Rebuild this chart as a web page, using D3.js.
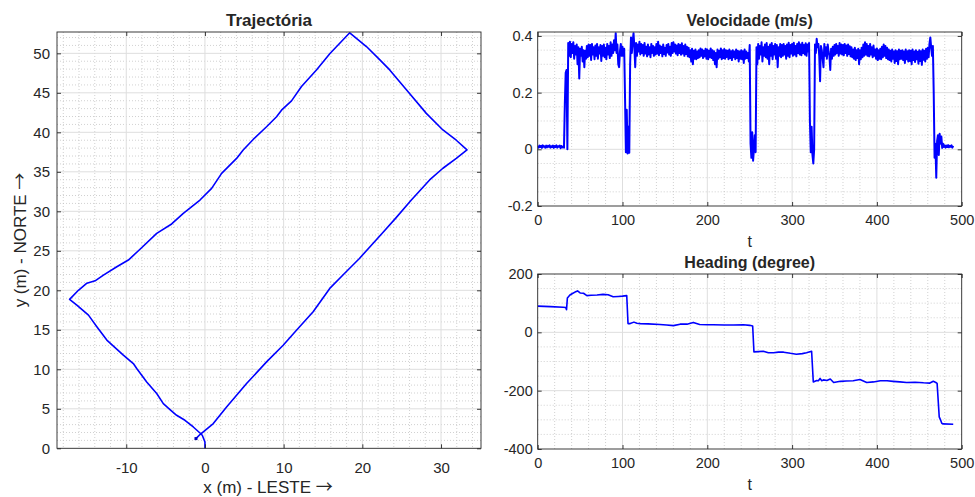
<!DOCTYPE html>
<html><head><meta charset="utf-8">
<script src="https://cdn.jsdelivr.net/npm/d3@7"></script>
<style>
body{margin:0;background:#fff}
svg{display:block}
text{font-family:"Liberation Sans",Arial,Helvetica,sans-serif;fill:#262626}
</style>
</head><body>
<svg width="975" height="497"></svg>
<script>
// ---------------- DATA ----------------
// Trajectory (m)
const trajX = [0, 0, -0.34, -0.63, -1.48, -2.54, -3.6, -4.44, -5.29, -6.13, -7.4, -8.67, -9.1, -10.37, -12.47, -13.74, -14.8, -16.28, -17.2, -16.08, -15.0, -13.96, -12.9, -11.2, -9.73, -8.25, -6.13, -4.23, -2.75, -0.63, 0.85, 2.12, 4.02, 4.86, 6.13, 7.83, 9.1, 9.73, 11.0, 12.27, 14.17, 15.86, 18.4, 20.52, 22.2, 23.48, 25.6, 28.13, 30.24, 31.94, 33.3, 31.94, 30.24, 28.55, 26.2, 24.3, 22.5, 19.6, 17.6, 15.86, 13.75, 11.63, 9.94, 7.83, 5.29, 2.75, 1.06, -0.63, -1.14];
const trajY = [0, 0.8, 1.65, 1.94, 2.7, 3.55, 4.18, 4.9, 5.66, 6.93, 8.4, 10.1, 10.73, 11.8, 13.7, 15.4, 16.86, 18.13, 18.85, 20.0, 20.9, 21.2, 21.93, 22.98, 23.83, 25.2, 27.2, 28.4, 29.75, 31.43, 32.9, 34.8, 36.7, 37.77, 39.1, 40.7, 41.97, 42.8, 43.98, 45.8, 47.9, 49.94, 52.6, 50.86, 49.2, 47.9, 45.4, 42.4, 40.3, 39.0, 37.77, 36.7, 35.45, 33.97, 31.4, 29.2, 27.2, 24.0, 22.0, 20.24, 17.28, 14.95, 13.05, 10.94, 8.2, 5.24, 3.13, 1.74, 1.23];

// Velocity (m/s), one sample per second, t = 0 .. 490
const velStep = 1;
const velocity = [
.012,.006,.013,.008,.012,.005,.014,.009,.011,.006,
.013,.007,.012,.009,.014,.006,.011,.008,.013,.005,
.012,.008,.014,.006,.011,.009,.013,.004,.012,.007,
.010,.006,.160,.270,.280,.000,.375,.330,.380,.325,
.372,.340,.378,.320,.365,.335,.370,.300,.360,.250,
.355,.330,.362,.310,.350,.290,.348,.320,.365,.325,
.370,.330,.368,.315,.372,.335,.360,.318,.366,.330,
.372,.320,.360,.338,.368,.312,.365,.330,.370,.325,
.358,.318,.372,.335,.365,.322,.378,.330,.370,.340,
.385,.350,.410,.340,.370,.300,.290,.345,.372,.330,
.362,.330,.355,.180,-.010,.140,-.015,.080,-.012,.300,
.395,.340,.380,.410,.360,.290,.375,.330,.370,.345,
.380,.335,.372,.340,.368,.330,.375,.338,.362,.328,
.370,.335,.360,.325,.372,.340,.365,.330,.360,.335,
.372,.338,.380,.332,.366,.340,.362,.328,.370,.336,
.358,.330,.368,.342,.372,.335,.362,.330,.375,.340,
.378,.345,.370,.338,.366,.332,.372,.340,.368,.334,
.374,.338,.365,.330,.370,.336,.362,.328,.358,.325,
.350,.310,.355,.300,.348,.320,.352,.318,.345,.322,
.350,.325,.356,.330,.352,.322,.348,.328,.355,.320,
.352,.318,.348,.325,.356,.322,.350,.315,.346,.300,
.340,.290,.352,.320,.348,.325,.356,.318,.350,.322,
.354,.320,.350,.326,.348,.318,.352,.322,.346,.315,
.350,.325,.345,.318,.352,.322,.348,.310,.345,.320,
.350,.318,.346,.305,.352,.320,.345,.322,.340,.310,
.368,.020,-.030,.060,-.040,.000,.050,-.010,.360,.300,
.372,.320,.365,.335,.378,.310,.360,.330,.370,.325,
.375,.320,.362,.300,.370,.330,.375,.318,.365,.335,
.372,.320,.368,.290,.360,.330,.372,.325,.368,.330,
.372,.335,.365,.320,.370,.330,.376,.325,.368,.338,
.372,.330,.376,.335,.365,.328,.372,.340,.378,.335,
.370,.332,.376,.340,.368,.335,.374,.330,.370,.345,
.375,.100,-.010,.080,-.020,-.050,.000,.370,.340,.390,
.360,.372,.330,.240,.365,.350,.320,.290,.372,.330,
.360,.320,.370,.345,.330,.280,.355,.320,.362,.330,
.368,.335,.372,.340,.365,.330,.375,.338,.370,.335,
.368,.332,.372,.340,.366,.330,.370,.336,.364,.328,
.360,.325,.352,.320,.358,.315,.350,.322,.355,.300,
.350,.318,.358,.325,.370,.330,.378,.335,.372,.330,
.365,.328,.372,.335,.360,.325,.366,.330,.352,.320,
.356,.315,.350,.320,.355,.318,.362,.325,.370,.330,
.365,.322,.358,.318,.352,.315,.348,.310,.352,.320,
.345,.305,.350,.312,.346,.300,.352,.318,.348,.320,
.350,.315,.345,.305,.352,.318,.346,.310,.350,.312,
.348,.300,.352,.315,.345,.308,.350,.318,.344,.302,
.350,.312,.346,.298,.352,.316,.348,.310,.355,.320,
.358,.325,.372,.395,.360,.330,.365,.200,-.030,.020,
-.100,.030,.050,-.020,.055,.020,.045,.005,.020,.008,
.014,.006,.013,.008,.015,.007,.012,.009,.014,.006,.012
];

// Heading (degree)
const headingT = [0, 15, 30, 33, 34, 35, 38, 41, 44, 47, 50, 54, 58, 63, 70, 77, 83, 89, 95, 100, 105, 106.5, 109, 113.5, 117, 121, 130, 144, 152, 160, 168, 176, 183.5, 191, 200, 207, 220, 231, 242.5, 250, 253.5, 255, 260, 266, 272, 278, 284, 290, 298, 305, 312, 317, 323, 325, 329, 331, 333, 335, 337, 341, 345, 349, 357, 364, 372, 380, 388, 396, 404, 412, 419, 427, 435, 445, 455, 462.5, 466.5, 469.5, 471, 473.5, 475, 476.5, 478, 490];
const headingV = [90, 88, 86, 85, 78, 118, 128, 133, 138, 142, 135, 134, 126, 127, 128, 130, 129, 122, 123, 124, 126, 30, 30, 35, 31, 30, 29, 27, 25, 23, 28, 28, 34, 27, 26, 26, 25, 25, 26, 24, 22, -67, -66, -65, -70, -70, -68, -68, -72, -75, -73, -70, -65, -170, -165, -166, -158, -166, -163, -165, -160, -172, -168, -167, -166, -162, -172, -170, -166, -166, -168, -170, -172, -171, -173, -174, -168, -172, -175, -290, -300, -312, -314, -315];

// Ticks
const trajXTicks = [-10, 0, 10, 20, 30];
const trajYTicks = [0, 5, 10, 15, 20, 25, 30, 35, 40, 45, 50];
const tTicks = [0, 100, 200, 300, 400, 500];
const velTicks = [-0.2, 0, 0.2, 0.4];
const velTickLabels = ["-0.2", "0", "0.2", "0.4"];
const headTicks = [-400, -200, 0, 200];

// Titles / labels
const titles = ["Trajectória", "Velocidade (m/s)", "Heading (degree)"];
const trajXLabel = "x (m) - LESTE ";
const trajYLabel = "y (m) - NORTE ";
const arrow = "\u2192";
const tLabel = "t";

// ---------------- DRAW ----------------
const svg = d3.select("svg");
const BLUE = "#0000ff";
const AX = "#262626";

function panel(x, y, cfg) {
  const g = svg.append("g");
  const [xl, xr] = x.range();
  const [yb, yt] = y.range();
  const W = xr - xl, H = yb - yt;
  // minor grid
  g.append("g").selectAll("line").data(cfg.xMinor).join("line")
    .attr("x1", d => x(d)).attr("x2", d => x(d)).attr("y1", yt).attr("y2", yb)
    .attr("stroke", "#bdbdbd").attr("stroke-width", 0.7).attr("stroke-dasharray", "1,2");
  g.append("g").selectAll("line").data(cfg.yMinor).join("line")
    .attr("y1", d => y(d)).attr("y2", d => y(d)).attr("x1", xl).attr("x2", xr)
    .attr("stroke", "#bdbdbd").attr("stroke-width", 0.7).attr("stroke-dasharray", "1,2");
  // major grid
  g.append("g").selectAll("line").data(cfg.xTicks.filter(d => x(d) > xl + 1 && x(d) < xr - 1)).join("line")
    .attr("x1", d => x(d)).attr("x2", d => x(d)).attr("y1", yt).attr("y2", yb)
    .attr("stroke", "#dedede").attr("stroke-width", 1);
  g.append("g").selectAll("line").data(cfg.yTicks.filter(d => y(d) > yt + 1 && y(d) < yb - 1)).join("line")
    .attr("y1", d => y(d)).attr("y2", d => y(d)).attr("x1", xl).attr("x2", xr)
    .attr("stroke", "#dedede").attr("stroke-width", 1);
  // data layer
  const clipId = "c" + Math.round(xl) + "_" + Math.round(yt);
  svg.append("clipPath").attr("id", clipId).append("rect")
    .attr("x", xl).attr("y", yt - 1).attr("width", W).attr("height", H + 2);
  const data = g.append("g").attr("clip-path", `url(#${clipId})`);
  // axes
  const ts = cfg.tick;
  const fmtX = cfg.xFmt || (d => String(d));
  const fmtY = cfg.yFmt || (d => String(d));
  const ax = [
    g.append("g").attr("transform", `translate(0,${yb})`)
      .call(d3.axisBottom(x).tickValues(cfg.xTicks).tickSizeInner(-ts).tickSizeOuter(0).tickPadding(cfg.xPad).tickFormat(fmtX)),
    g.append("g").attr("transform", `translate(0,${yt})`)
      .call(d3.axisTop(x).tickValues(cfg.xTicks).tickSizeInner(-ts).tickSizeOuter(0).tickFormat("")),
    g.append("g").attr("transform", `translate(${xl},0)`)
      .call(d3.axisLeft(y).tickValues(cfg.yTicks).tickSizeInner(-ts).tickSizeOuter(0).tickPadding(cfg.yPad).tickFormat(fmtY)),
    g.append("g").attr("transform", `translate(${xr},0)`)
      .call(d3.axisRight(y).tickValues(cfg.yTicks).tickSizeInner(-ts).tickSizeOuter(0).tickFormat(""))
  ];
  ax.forEach(a => {
    a.select(".domain").remove();
    a.selectAll("line").attr("stroke", AX).attr("stroke-width", 0.9);
    a.selectAll("text").attr("fill", AX).style("font-size", cfg.tickFont + "px")
      .style("font-family", '"Liberation Sans",Arial,sans-serif');
  });
  g.append("rect").attr("x", xl).attr("y", yt).attr("width", W).attr("height", H)
    .attr("fill", "none").attr("stroke", AX).attr("stroke-width", 0.9);
  return data;
}

function labelWithArrow(sel, txt) {
  sel.append("tspan").text(txt);
  sel.append("tspan").style("font-family", '"Noto Sans CJK JP","DejaVu Sans",sans-serif').style("font-size", "17px").text(arrow);
}

// ---- Trajectory ----
const xT = d3.scaleLinear().domain([-18.8, 35.08]).range([57, 481]);
const yT = d3.scaleLinear().domain([0, 52.7]).range([448.3, 32]);
const dT = panel(xT, yT, {
  xTicks: trajXTicks, yTicks: trajYTicks,
  xMinor: d3.range(-18, 35, 2).filter(v => v % 10 !== 0),
  yMinor: d3.range(1, 53, 1).filter(v => v % 5 !== 0),
  tick: 4, xPad: 14, yPad: 7, tickFont: 15
});
const trajPts = trajX.map((v, i) => [v, trajY[i]]);
dT.append("path").datum(trajPts)
  .attr("d", d3.line().x(d => xT(d[0])).y(d => yT(d[1])))
  .attr("fill", "none").attr("stroke", BLUE).attr("stroke-width", 1.6).attr("stroke-linejoin", "round");
const last = trajPts[trajPts.length - 1];
dT.append("rect").attr("x", xT(last[0]) - 1.5).attr("y", yT(last[1]) - 1.5)
  .attr("width", 3).attr("height", 3).attr("fill", "#0000c0");

svg.append("text").attr("x", 269).attr("y", 26).attr("text-anchor", "middle")
  .style("font-size", "17px").style("font-weight", "bold").attr("fill", "#000").text(titles[0]);
svg.append("text").attr("x", 268).attr("y", 492.5).attr("text-anchor", "middle")
  .style("font-size", "17px").call(labelWithArrow, trajXLabel);
svg.append("text").attr("transform", "translate(26,240) rotate(-90)").attr("text-anchor", "middle")
  .style("font-size", "17px").call(labelWithArrow, trajYLabel);

// ---- Velocity ----
const xV = d3.scaleLinear().domain([0, 500]).range([537.7, 961.7]);
const yV = d3.scaleLinear().domain([-0.2, 0.414]).range([206, 32]);
const dV = panel(xV, yV, {
  xTicks: tTicks, yTicks: velTicks,
  xMinor: d3.range(20, 500, 20).filter(v => v % 100 !== 0),
  yMinor: [-0.15, -0.1, -0.05, 0.05, 0.1, 0.15, 0.25, 0.3, 0.35],
  tick: 4, xPad: 9, yPad: 5, tickFont: 14.5,
  yFmt: d => velTickLabels[velTicks.indexOf(d)]
});
dV.append("path").datum(velocity)
  .attr("d", d3.line().x((d, i) => xV(i * velStep)).y(d => yV(d)))
  .attr("fill", "none").attr("stroke", BLUE).attr("stroke-width", 2).attr("stroke-linejoin", "round");
svg.append("text").attr("x", 749.7).attr("y", 26).attr("text-anchor", "middle")
  .style("font-size", "16px").style("font-weight", "bold").attr("fill", "#000").text(titles[1]);
svg.append("text").attr("x", 749.7).attr("y", 246.5).attr("text-anchor", "middle")
  .style("font-size", "16px").text(tLabel);

// ---- Heading ----
const xH = d3.scaleLinear().domain([0, 500]).range([537.7, 961.7]);
const yH = d3.scaleLinear().domain([-400, 200]).range([449, 274]);
const dH = panel(xH, yH, {
  xTicks: tTicks, yTicks: headTicks,
  xMinor: d3.range(20, 500, 20).filter(v => v % 100 !== 0),
  yMinor: [-350, -300, -250, -150, -100, -50, 50, 100, 150],
  tick: 4, xPad: 9, yPad: 5, tickFont: 14.5
});
dH.append("path").datum(headingT.map((t, i) => [t, headingV[i]]))
  .attr("d", d3.line().x(d => xH(d[0])).y(d => yH(d[1])))
  .attr("fill", "none").attr("stroke", BLUE).attr("stroke-width", 1.6).attr("stroke-linejoin", "round");
svg.append("text").attr("x", 749.7).attr("y", 268.3).attr("text-anchor", "middle")
  .style("font-size", "16px").style("font-weight", "bold").attr("fill", "#000").text(titles[2]);
svg.append("text").attr("x", 749.7).attr("y", 490).attr("text-anchor", "middle")
  .style("font-size", "16px").text(tLabel);
</script>
</body></html>
